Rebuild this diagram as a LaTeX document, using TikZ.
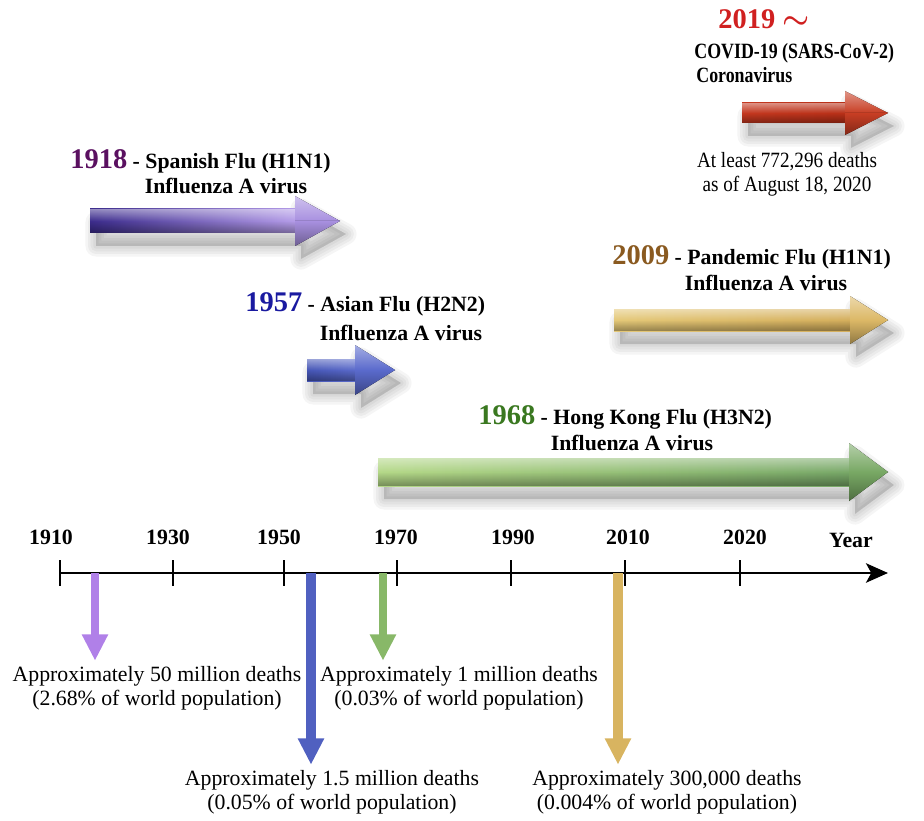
\documentclass[tikz,border=0pt]{standalone}
\usepackage{fontspec}
\usepackage{graphicx}
\setmainfont{Liberation Serif}
\newfontfamily\covidfont[FakeStretch=0.82]{Liberation Serif}
\newfontfamily\notefont[FakeStretch=0.88]{Liberation Serif}
\usetikzlibrary{arrows.meta,fadings}

\definecolor{c1918}{HTML}{5A1060}
\definecolor{c1957}{HTML}{1A1AA0}
\definecolor{c1968}{HTML}{3A7820}
\definecolor{c2009}{HTML}{8A5A20}
\definecolor{c2019}{HTML}{D02020}
\definecolor{spanA}{HTML}{3C2C8C}
\definecolor{spanB}{HTML}{B49CE8}
\definecolor{spanH}{HTML}{A890E0}
\definecolor{asianA}{HTML}{4656B6}
\definecolor{asianB}{HTML}{5A6ACA}
\definecolor{asianH}{HTML}{5A6ACC}
\definecolor{hkA}{HTML}{B4D888}
\definecolor{hkB}{HTML}{78A868}
\definecolor{hkH}{HTML}{78A864}
\definecolor{pdmA}{HTML}{E4C878}
\definecolor{pdmB}{HTML}{D4AE5C}
\definecolor{pdmH}{HTML}{DCB866}
\definecolor{covA}{HTML}{C43820}
\definecolor{covB}{HTML}{B83018}
\definecolor{covH}{HTML}{C83E24}
\definecolor{spanD}{HTML}{B080E8}
\definecolor{asianD}{HTML}{5060C0}
\definecolor{hkD}{HTML}{88B868}
\definecolor{pdmD}{HTML}{D8B460}

\tikzfading[name=hilite, top color=transparent!55, bottom color=transparent!100]
\tikzfading[name=lowshade, top color=transparent!100, bottom color=transparent!65]

\tikzset{
  flulbl/.style={font=\fontsize{12.4}{14}\selectfont\bfseries, inner sep=0pt},
  covlbl/.style={font=\fontsize{12.4}{14}\selectfont\covidfont\bfseries, inner sep=0pt},
  deathlbl/.style={font=\fontsize{12.4}{13.6}\selectfont, align=center, inner sep=0pt},
  axisline/.style={line width=1.7pt, -{Stealth[length=12.5pt, width=11pt, inset=3pt]}},
  tick/.style={line width=1.5pt},
  dnarrow/.style={line width=#1, -{Triangle[width=14pt, length=15pt]}, shorten >=3pt},
}

\newcommand{\yearmark}[2]{{\fontsize{16.2}{18}\selectfont\color{#1}#2}}

\newcommand{\flowarrow}[9]{%
  \foreach \w in {12,9,6,3}
    \filldraw[black, opacity=0.04, line width=\w pt, line join=round, shift={(6,13)}]
      (#1,#4-#5) -- (#2,#4-#5) -- (#2,#4-#6) -- (#3,#4) -- (#2,#4+#6) -- (#2,#4+#5) -- (#1,#4+#5) -- cycle;
  \fill[left color=#7, right color=#8]
    (#1,#4-#5) -- (#2+1,#4-#5) -- (#2+1,#4+#5) -- (#1,#4+#5) -- cycle;
  \fill[white, path fading=hilite] (#1,#4-#5) rectangle (#2,#4);
  \fill[black, path fading=lowshade] (#1,#4) rectangle (#2,#4+#5);
  \fill[top color=#9!55!white, bottom color=#9] (#2,#4-#6) -- (#3,#4) -- (#2,#4) -- cycle;
  \fill[top color=#9, bottom color=#9!65!black] (#2,#4) -- (#3,#4) -- (#2,#4+#6) -- cycle;
}

\begin{document}
\begin{tikzpicture}[x=0.02cm, y=-0.02cm]
  \useasboundingbox (0,0) rectangle (924,821);

  \flowarrow{90}{295}{340}{221}{12}{25}{spanA}{spanB}{spanH}
  \flowarrow{307}{355}{395}{370}{11}{25}{asianA}{asianB}{asianH}
  \flowarrow{378}{849}{888}{472}{14}{29}{hkA}{hkB}{hkH}
  \flowarrow{614}{850}{888}{320}{11}{24}{pdmA}{pdmB}{pdmH}
  \flowarrow{742}{845}{888}{113}{10}{22}{covA}{covB}{covH}

  \node[flulbl, anchor=base west] (t1918) at (70,169) {\yearmark{c1918}{1918} - Spanish Flu (H1N1)};
  \node[flulbl, anchor=base] (v1918) at (226,194) {Influenza A virus};
  \node[flulbl, anchor=base west] (t1957) at (245,312) {\yearmark{c1957}{1957} - Asian Flu (H2N2)};
  \node[flulbl, anchor=base] (v1957) at (401,340) {Influenza A virus};
  \node[flulbl, anchor=base west] (t1968) at (478,424) {\yearmark{c1968}{1968} - Hong Kong Flu (H3N2)};
  \node[flulbl, anchor=base] (v1968) at (632,450) {Influenza A virus};
  \node[flulbl, anchor=base west] (t2009) at (612,265) {\yearmark{c2009}{2009} - Pandemic Flu (H1N1)};
  \node[flulbl, anchor=base] (v2009) at (766,291) {Influenza A virus};
  \node[flulbl, anchor=base west] (t2019) at (718,29) {\yearmark{c2019}{2019 \boldmath$\sim$}};
  \node[covlbl, anchor=base west] (n2019) at (694,59) {COVID-19 (SARS-CoV-2)};
  \node[covlbl, anchor=base west] (v2019) at (696,83) {Coronavirus};
  \node[deathlbl, font=\fontsize{12.4}{13.6}\selectfont\notefont, anchor=north] (d2019) at (787,152) {At least 772,296 deaths\\as of August 18, 2020};

  \coordinate (ax0) at (60,573);
  \coordinate (ax1) at (888,573);
  \draw[axisline] (ax0) -- (ax1);
  \foreach \x/\lx/\lbl in {60/51/1910,173/168/1930,284/279/1950,397/396/1970,511/513/1990,625/628/2010,740/745/2020}{
    \draw[tick] (\x,560) -- (\x,586);
    \node[flulbl] (y\lbl) at (\lx,537) {\lbl};
  }
  \node[flulbl] (year) at (851,540) {Year};

  \node[deathlbl, anchor=north] (d1918) at (157,666) {Approximately 50 million deaths\\(2.68\% of world population)};
  \node[deathlbl, anchor=north] (d1968) at (459,666) {Approximately 1 million deaths\\(0.03\% of world population)};
  \node[deathlbl, anchor=north] (d1957) at (332,770) {Approximately 1.5 million deaths\\(0.05\% of world population)};
  \node[deathlbl, anchor=north] (d2009) at (667,770) {Approximately 300,000 deaths\\(0.004\% of world population)};

  \coordinate (a1918) at (95,573);
  \coordinate (a1957) at (311,573);
  \coordinate (a1968) at (383,573);
  \coordinate (a2009) at (618,573);
  \draw[dnarrow=4.6pt, spanD] (a1918) -- (a1918 |- d1918.north);
  \draw[dnarrow=5.6pt, asianD] (a1957) -- (a1957 |- d1957.north);
  \draw[dnarrow=4.6pt, hkD] (a1968) -- (a1968 |- d1968.north);
  \draw[dnarrow=5.2pt, pdmD] (a2009) -- (a2009 |- d2009.north);
\end{tikzpicture}
\end{document}
